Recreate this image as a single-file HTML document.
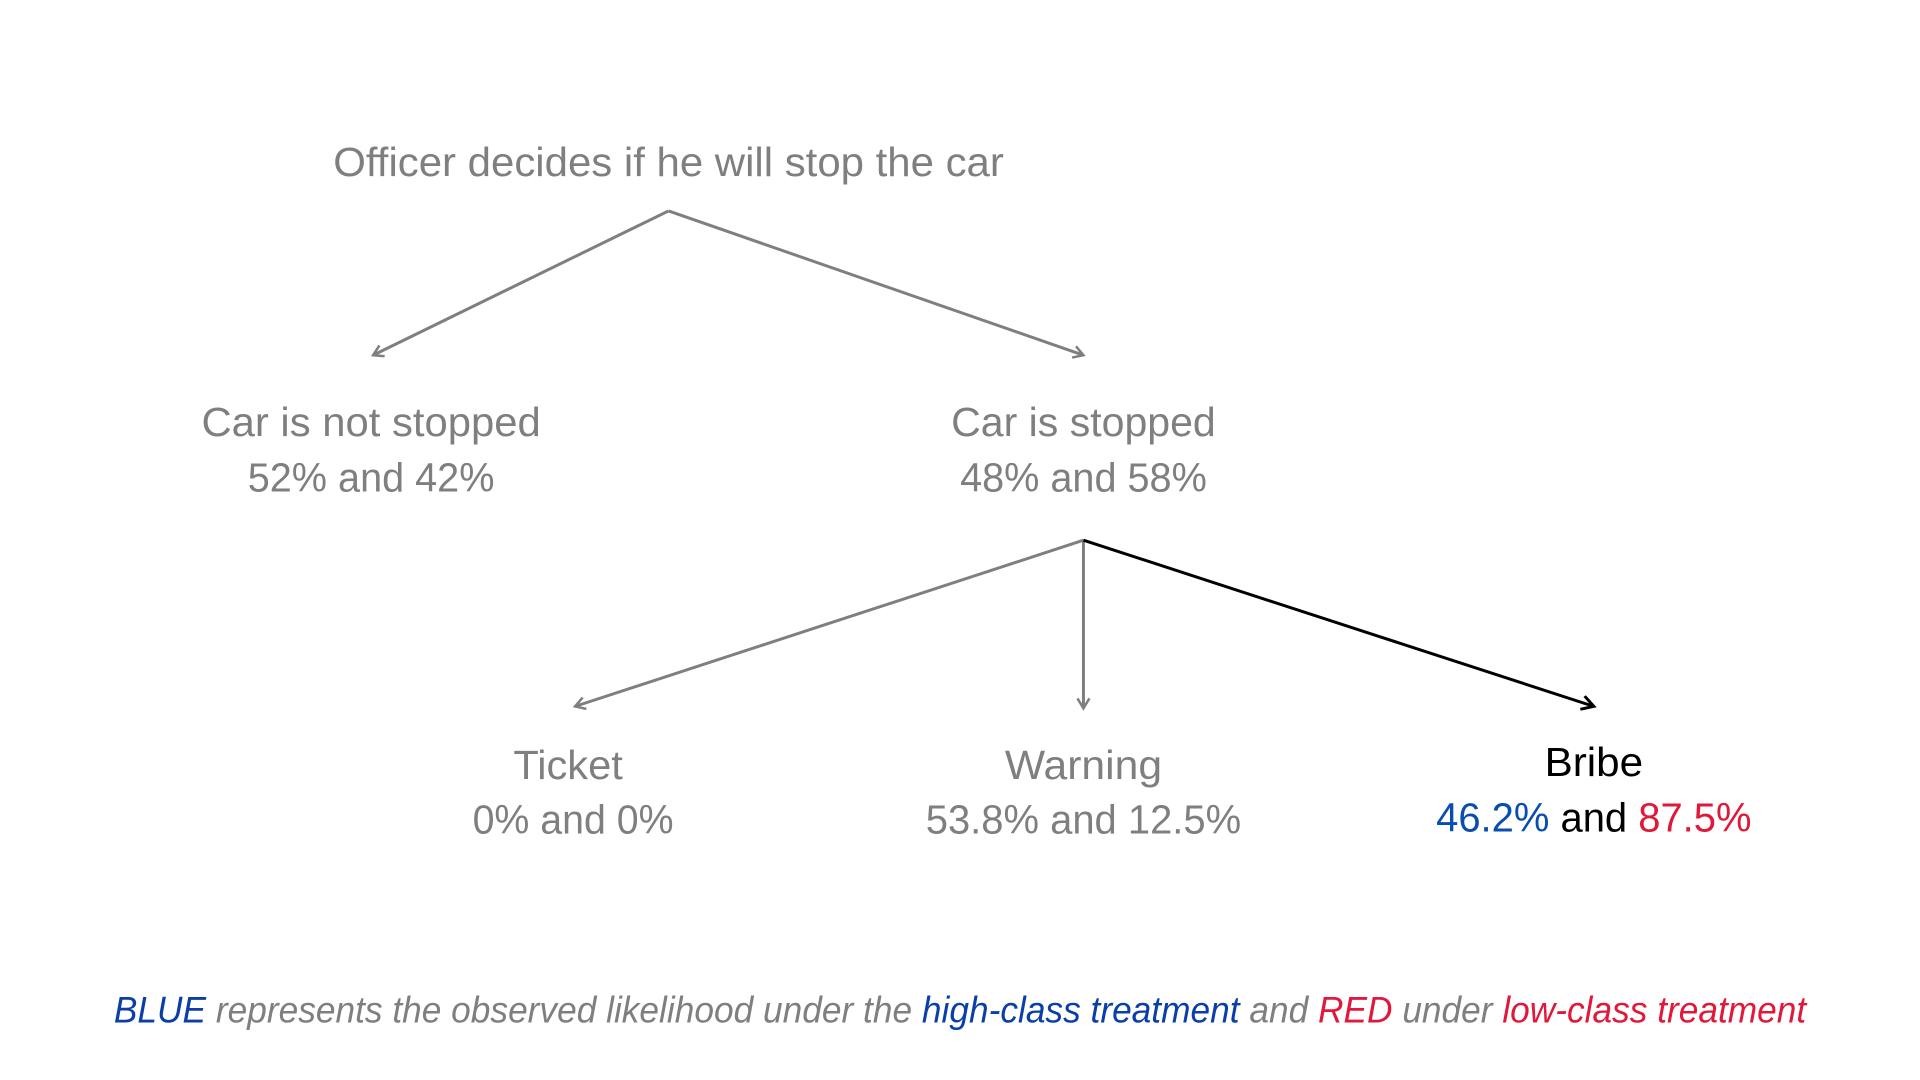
<!DOCTYPE html>
<html><head><meta charset="utf-8"><style>
html,body{margin:0;padding:0;background:#fff;}
svg{display:block;}
text{font-family:"Liberation Sans","DejaVu Sans",sans-serif;}
</style></head><body>
<svg width="1920" height="1080" viewBox="0 0 1920 1080" xmlns="http://www.w3.org/2000/svg">
<defs>
<marker id="ag" viewBox="0 0 14 14" refX="11" refY="7" markerWidth="14" markerHeight="14" markerUnits="userSpaceOnUse" orient="auto"><path d="M1,1 L11,7 L1,13" fill="none" stroke="#7f7f7f" stroke-width="2.5"/></marker>
<marker id="ab" viewBox="0 0 16 16" refX="13" refY="8" markerWidth="16" markerHeight="16" markerUnits="userSpaceOnUse" orient="auto"><path d="M1,1 L13,8 L1,15" fill="none" stroke="#000" stroke-width="3"/></marker>
</defs>
<g transform="scale(0.9949)">
<g fill="none" stroke-width="3">
<line x1="672" y1="212" x2="375" y2="357" stroke="#7f7f7f" marker-end="url(#ag)"/>
<line x1="672" y1="212" x2="1089" y2="357" stroke="#7f7f7f" marker-end="url(#ag)"/>
<line x1="1089" y1="543" x2="578" y2="710" stroke="#7f7f7f" marker-end="url(#ag)"/>
<line x1="1089" y1="543" x2="1089" y2="712" stroke="#7f7f7f" marker-end="url(#ag)"/>
<line x1="1089" y1="543" x2="1602" y2="710" stroke="#000" marker-end="url(#ab)"/>
</g>
<g font-size="41" text-anchor="middle" fill="#7f7f7f">
<text x="672" y="177" textLength="674" lengthAdjust="spacingAndGlyphs">Officer decides if he will stop the car</text>
<text x="373" y="438" textLength="341" lengthAdjust="spacingAndGlyphs">Car is not stopped</text>
<text x="373" y="494" textLength="248" lengthAdjust="spacingAndGlyphs">52% and 42%</text>
<text x="1089" y="438" textLength="266" lengthAdjust="spacingAndGlyphs">Car is stopped</text>
<text x="1089" y="494" textLength="248" lengthAdjust="spacingAndGlyphs">48% and 58%</text>
<text x="571" y="783" textLength="110" lengthAdjust="spacingAndGlyphs">Ticket</text>
<text x="576" y="838" textLength="202" lengthAdjust="spacingAndGlyphs">0% and 0%</text>
<text x="1089" y="783" textLength="158" lengthAdjust="spacingAndGlyphs">Warning</text>
<text x="1089" y="838" textLength="317" lengthAdjust="spacingAndGlyphs">53.8% and 12.5%</text>
<text x="1602" y="780" fill="#000" textLength="99" lengthAdjust="spacingAndGlyphs">Bribe</text>
<text x="1602" y="836" fill="#000" textLength="317" lengthAdjust="spacingAndGlyphs"><tspan fill="#0a4db0">46.2%</tspan> and <tspan fill="#e0193a">87.5%</tspan></text>
</g>
<text x="965" y="1028" font-size="37" font-style="italic" text-anchor="middle" fill="#7f7f7f" textLength="1701" lengthAdjust="spacingAndGlyphs"><tspan fill="#0a3fa8">BLUE</tspan> represents the observed likelihood under the <tspan fill="#0a3fa8">high-class treatment</tspan> and <tspan fill="#e0193a">RED</tspan> under <tspan fill="#e0193a">low-class treatment</tspan></text>
</g>
</svg>
</body></html>
